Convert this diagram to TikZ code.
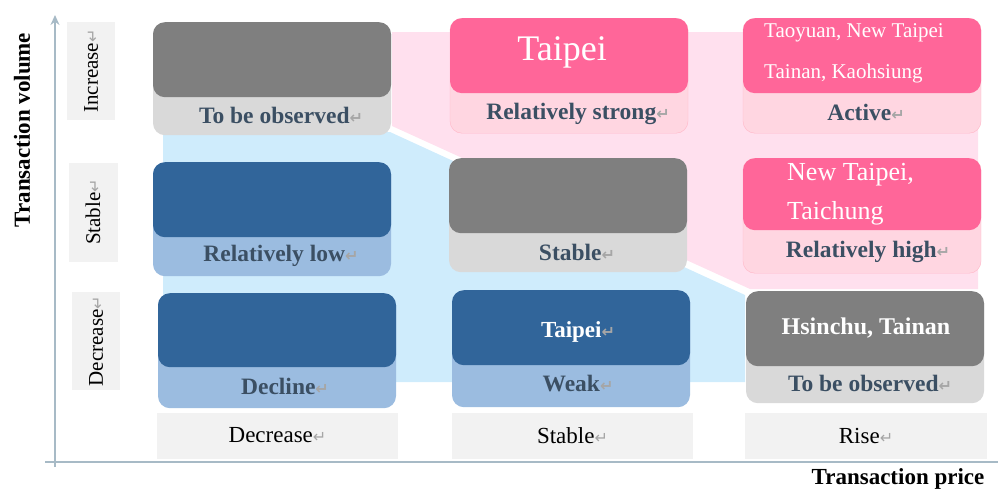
\documentclass[tikz,border=0pt]{standalone}
\usepackage{fontspec}
\setmainfont{Liberation Serif}
\newfontfamily\djv{DejaVu Sans}
\usetikzlibrary{arrows.meta}
\definecolor{grayTop}{HTML}{7F7F7F}
\definecolor{grayBot}{HTML}{D9D9D9}
\definecolor{pinkTop}{HTML}{FF6699}
\definecolor{pinkBot}{HTML}{FFD6E1}
\definecolor{pinkEdge}{HTML}{FFB8C8}
\definecolor{blueTop}{HTML}{31659A}
\definecolor{blueBot}{HTML}{9BBCE0}
\definecolor{pinkBg}{HTML}{FFE0EE}
\definecolor{blueBg}{HTML}{CFECFC}
\definecolor{lblText}{HTML}{3B4F63}
\definecolor{tagBg}{HTML}{F2F2F2}
\definecolor{axisCol}{HTML}{A7BAC6}
\definecolor{pmCol}{HTML}{A6A6A6}
\newcommand\pmk{{\djv\color{pmCol}\fontsize{16}{16}\selectfont ↵}}
\tikzset{
  boxbase/.style={rounded corners=12pt, minimum width=238pt, inner sep=0pt, anchor=north},
  lbl/.style={font=\bfseries\fontsize{23.5}{25}\selectfont, text=lblText, inner sep=0pt},
  tagbox/.style={fill=tagBg, inner sep=0pt, font=\fontsize{23}{25}\selectfont},
  rtag/.style={fill=tagBg, inner sep=0pt, font=\fontsize{21}{23}\selectfont, rotate=90},
  wtxt/.style={text=white, inner sep=0pt},
  axisline/.style={draw=axisCol, line width=2.5pt},
  axtitle/.style={font=\bfseries\fontsize{23}{25}\selectfont, inner sep=0pt}
}
\begin{document}
\begin{tikzpicture}[x=1pt,y=-1pt]
\useasboundingbox (0,0) rectangle (998,491);
% backgrounds
\fill[pinkBg] (392,32) -- (978,32) -- (978,289) -- (750,289) -- (392,126) -- cycle;
\fill[blueBg] (163,132) -- (390,132) -- (745,295) -- (745,382) -- (163,382) -- cycle;
% row tags
\node[rtag, minimum width=98pt, minimum height=48pt] (tInc) at (91,71) {Increase\pmk};
\node[rtag, minimum width=99pt, minimum height=49pt] (tSta) at (93,212) {Stable\pmk};
\node[rtag, minimum width=98pt, minimum height=48pt] (tDec) at (96,341) {Decrease\pmk};
% column tags
\node[tagbox, minimum width=241pt, minimum height=46pt] (cDec) at (277.5,435.5) {Decrease\pmk};
\node[tagbox, minimum width=241pt, minimum height=46pt] (cSta) at (572.5,435.5) {Stable\pmk};
\node[tagbox, minimum width=242pt, minimum height=46pt] (cRis) at (866,435.5) {Rise\pmk};
% axes
\coordinate (yBot) at (55,467);
\coordinate (yTop) at (55,15);
\coordinate (xL) at (45,462);
\coordinate (xR) at (998,462);
\draw[axisline, -{Stealth[length=10pt,width=9pt]}] (yBot) -- (yTop);
\draw[axisline] (xL) -- (xR);
\node[axtitle, rotate=90] (volT) at (22,130) {Transaction volume};
\node[axtitle, anchor=base] (priT) at (898,484) {Transaction price};
% box A
\node[boxbase, fill=grayBot, minimum height=113pt] (aOut) at (272,22) {};
\node[boxbase, fill=grayTop, minimum height=75pt] (aTop) at (272,22) {};
\node[lbl] (aLbl) at (281,115) {To be observed\pmk};
% box B
\node[boxbase, fill=pinkBot, draw=pinkEdge, minimum height=115pt] (bOut) at (569,18) {};
\node[boxbase, fill=pinkTop, minimum height=75pt] (bTop) at (569,18) {};
\node[wtxt, font=\fontsize{36}{38}\selectfont] (bTxt) at (562,52) {Taipei};
\node[lbl] (bLbl) at (578,114) {Relatively strong\pmk};
% box C
\node[boxbase, fill=pinkBot, draw=pinkEdge, minimum height=115pt] (cOut) at (862,18) {};
\node[boxbase, fill=pinkTop, minimum height=75pt] (cTop) at (862,18) {};
\node[wtxt, anchor=west, font=\fontsize{21}{23}\selectfont] (cTx1) at (764,33) {Taoyuan, New Taipei};
\node[wtxt, anchor=west, font=\fontsize{21}{23}\selectfont] (cTx2) at (764,73) {Tainan, Kaohsiung};
\node[lbl] (cLbl) at (866,112) {Active\pmk};
% box D
\node[boxbase, fill=blueBot, minimum height=114pt] (dOut) at (272,162) {};
\node[boxbase, fill=blueTop, minimum height=75pt] (dTop) at (272,162) {};
\node[lbl] (dLbl) at (281,256) {Relatively low\pmk};
% box E
\node[boxbase, fill=grayBot, minimum height=114pt] (eOut) at (568,158) {};
\node[boxbase, fill=grayTop, minimum height=75pt] (eTop) at (568,158) {};
\node[lbl] (eLbl) at (577,252) {Stable\pmk};
% box F
\node[boxbase, fill=pinkBot, draw=pinkEdge, minimum height=115pt] (fOut) at (862,158) {};
\node[boxbase, fill=pinkTop, minimum height=72pt] (fTop) at (862,158) {};
\node[wtxt, anchor=west, font=\fontsize{26}{28}\selectfont] (fTx1) at (787,175) {New Taipei,};
\node[wtxt, anchor=west, font=\fontsize{26}{28}\selectfont] (fTx2) at (787,213) {Taichung};
\node[lbl] (fLbl) at (868,252) {Relatively high\pmk};
% box G
\node[boxbase, fill=blueBot, minimum height=115pt] (gOut) at (277,293) {};
\node[boxbase, fill=blueTop, minimum height=74pt] (gTop) at (277,293) {};
\node[lbl] (gLbl) at (285,386) {Decline\pmk};
% box H
\node[boxbase, fill=blueBot, minimum height=117pt] (hOut) at (571,290) {};
\node[boxbase, fill=blueTop, minimum height=75pt] (hTop) at (571,290) {};
\node[wtxt, font=\bfseries\fontsize{23}{25}\selectfont] (hTxt) at (578,332) {Taipei\pmk};
\node[lbl] (hLbl) at (578,384) {Weak\pmk};
% box I
\node[boxbase, fill=grayBot, minimum height=112pt] (iOut) at (865,291) {};
\node[boxbase, fill=grayTop, minimum height=75pt] (iTop) at (865,291) {};
\node[wtxt, font=\bfseries\fontsize{24}{26}\selectfont] (iTxt) at (866,328) {Hsinchu, Tainan};
\node[lbl] (iLbl) at (870,383) {To be observed\pmk};
\end{tikzpicture}
\end{document}
